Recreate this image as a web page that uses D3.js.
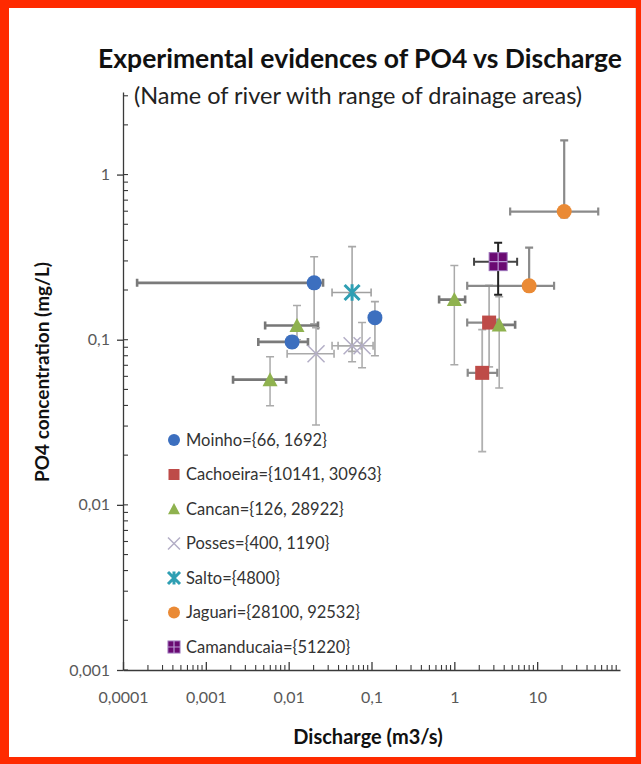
<!DOCTYPE html>
<html>
<head>
<meta charset="utf-8">
<script src="https://cdn.jsdelivr.net/npm/d3@7"></script>
<style>
body { margin: 0; background: #fff; }
svg { display: block; font-family: Lato, "Open Sans", sans-serif; }
</style>
</head>
<body>
<svg width="641" height="764"></svg>
<script>

// Discharge (m3/s) vs PO4 (mg/L), with min/max ranges for error bars
var moinho = [
	{ x: 0.0203, y: 0.221, xlo: 0.000148, xhi: 0.026, ylo: 0.125, yhi: 0.318 },
	{ x: 0.011, y: 0.097, xlo: 0.0043, xhi: 0.0171, ylo: 0.089, yhi: 0.105 },
	{ x: 0.110, y: 0.136, xlo: null, xhi: null, ylo: 0.080, yhi: 0.170 }
];
var cachoeira = [
	{ x: 2.63, y: 0.127, xlo: 1.43, xhi: 3.3, ylo: 0.0685, yhi: 0.213 },
	{ x: 2.17, y: 0.063, xlo: 1.45, xhi: 3.3, ylo: 0.021, yhi: 0.115 }
];
var cancan = [
	{ x: 0.0126, y: 0.122, xlo: 0.0052, xhi: 0.0226, ylo: 0.1, yhi: 0.161 },
	{ x: 0.00596, y: 0.0573, xlo: 0.00213, xhi: 0.0093, ylo: 0.0398, yhi: 0.0789 },
	{ x: 1.0, y: 0.175, xlo: 0.655, xhi: 1.35, ylo: 0.0705, yhi: 0.281 },
	{ x: 3.48, y: 0.123, xlo: 2.35, xhi: 5.42, ylo: 0.051, yhi: 0.182 }
];
var posses = [
	{ x: 0.0214, y: 0.0822, xlo: 0.00958, xhi: 0.0353, ylo: 0.0305, yhi: 0.118 },
	{ x: 0.0583, y: 0.092, xlo: 0.0334, xhi: 0.075, ylo: 0.0736, yhi: 0.19 },
	{ x: 0.0769, y: 0.092, xlo: 0.0395, xhi: 0.1045, ylo: 0.0676, yhi: 0.127 }
];
var salto = [
	{ x: 0.0583, y: 0.193, xlo: 0.0334, xhi: 0.0989, ylo: 0.085, yhi: 0.366 }
];
var jaguari = [
	{ x: 21.2, y: 0.597, xlo: 4.72, xhi: 54.6, ylo: 0.55, yhi: 1.61 },
	{ x: 8.0, y: 0.212, xlo: 1.43, xhi: 16.0, ylo: 0.2, yhi: 0.361 }
];
var camanducaia = [
	{ x: 3.38, y: 0.297, xlo: 1.73, xhi: 5.73, ylo: 0.187, yhi: 0.387 }
];

var seriesNames = ["Moinho={66, 1692}", "Cachoeira={10141, 30963}", "Cancan={126, 28922}",
	"Posses={400, 1190}", "Salto={4800}", "Jaguari={28100, 92532}", "Camanducaia={51220}"];
var seriesData = [moinho, cachoeira, cancan, posses, salto, jaguari, camanducaia];

var xTicks = [0.0001, 0.001, 0.01, 0.1, 1, 10];
var yTicks = [0.001, 0.01, 0.1, 1];

// look of each series (marker, colour, error bar pens)
var looks = [
	{ m: "circle", c: "#3c6fbf", xe: ["#7a7a7a", 2.6], ye: ["#a8a8a8", 1.6] },
	{ m: "square", c: "#be4b48", xe: ["#8a8a8a", 2.2], ye: ["#b0b0b0", 1.8] },
	{ m: "triangle", c: "#8fb24f", xe: ["#777", 2.6], ye: ["#aaa", 1.5] },
	{ m: "times", c: "#b3aec6", xe: ["#aaa", 1.6], ye: ["#aaa", 1.5] },
	{ m: "star", c: "#2f9fb3", xe: ["#a0a0a0", 1.6], ye: ["#a8a8a8", 1.6] },
	{ m: "circle", c: "#ea8a35", xe: ["#8a8a8a", 2.2], ye: ["#8a8a8a", 2.2] },
	{ m: "boxplus", c: "#6a0a72", xe: ["#444", 2], ye: ["#222", 2] }
];

var svg = d3.select("svg");

// red frame
svg.append("rect").attr("width", 641).attr("height", 764).attr("fill", "#ff2a00");
svg.append("rect").attr("x", 9).attr("y", 8).attr("width", 627).attr("height", 749).attr("fill", "#fff");
svg.append("line").attr("x1", 635.5).attr("x2", 635.5).attr("y1", 8).attr("y2", 757)
	.attr("stroke", "#d8d8d8").attr("stroke-width", 1);

var x = d3.scaleLog().domain([0.0001, 100]).range([123, 620]);
var y = d3.scaleLog().domain([0.001, Math.pow(10, 0.5)]).range([670, 92]);

function fmt(v) { return String(v).replace(".", ","); }

var axisColor = "#3a3a3a";

// y axis
var gy = svg.append("g")
	.attr("transform", "translate(" + x(0.0001) + ",0)")
	.call(d3.axisLeft(y).tickValues(yTicks).tickFormat(fmt).tickSizeInner(6).tickSizeOuter(0).tickPadding(7));
gy.select(".domain").attr("stroke", axisColor).attr("stroke-width", 1.3);
gy.selectAll(".tick line").attr("stroke", axisColor).attr("stroke-width", 1.3);
gy.selectAll(".tick text").attr("fill", "#595959").style("font-size", "16px").style("font-family", "Lato, sans-serif");

// x axis
var gx = svg.append("g")
	.attr("transform", "translate(0," + y(0.001) + ")")
	.call(d3.axisBottom(x).tickValues(xTicks).tickFormat(fmt).tickSizeInner(-8).tickSizeOuter(0).tickPadding(22));
gx.select(".domain").attr("stroke", axisColor).attr("stroke-width", 1.3);
gx.selectAll(".tick line").attr("stroke", axisColor).attr("stroke-width", 1.3);
gx.selectAll(".tick text").attr("fill", "#595959").style("font-size", "16px").style("font-family", "Lato, sans-serif");

// minor ticks
var minorX = [], minorY = [];
for (var e = -4; e < 2; e++)
	for (var k = 2; k <= 9; k++) minorX.push(k * Math.pow(10, e));
for (var e2 = -3; e2 < 1; e2++)
	for (var k2 = 1; k2 <= 9; k2++) {
		var v = k2 * Math.pow(10, e2);
		if (v <= y.domain()[1]) minorY.push(v);
	}

svg.append("g").selectAll("line").data(minorX).enter().append("line")
	.attr("x1", function(d) { return x(d); }).attr("x2", function(d) { return x(d); })
	.attr("y1", y(0.001)).attr("y2", y(0.001) - 5)
	.attr("stroke", axisColor).attr("stroke-width", 1.1);
svg.append("g").selectAll("line").data(minorY).enter().append("line")
	.attr("x1", x(0.0001)).attr("x2", x(0.0001) + 5)
	.attr("y1", function(d) { return y(d); }).attr("y2", function(d) { return y(d); })
	.attr("stroke", axisColor).attr("stroke-width", 1.1);

// error bars
var bars = svg.append("g");
var cap = 4;
seriesData.forEach(function(pts, i) {
	var lk = looks[i];
	pts.forEach(function(p) {
		if (p.xlo != null) {
			var yy = y(p.y);
			bars.append("path")
				.attr("d", "M" + x(p.xlo) + "," + yy + "H" + x(p.xhi) +
					"M" + x(p.xlo) + "," + (yy - cap) + "V" + (yy + cap) +
					"M" + x(p.xhi) + "," + (yy - cap) + "V" + (yy + cap))
				.attr("fill", "none").attr("stroke", lk.xe[0]).attr("stroke-width", lk.xe[1]);
		}
		if (p.ylo != null) {
			var xx = x(p.x);
			bars.append("path")
				.attr("d", "M" + xx + "," + y(p.ylo) + "V" + y(p.yhi) +
					"M" + (xx - cap) + "," + y(p.ylo) + "H" + (xx + cap) +
					"M" + (xx - cap) + "," + y(p.yhi) + "H" + (xx + cap))
				.attr("fill", "none").attr("stroke", lk.ye[0]).attr("stroke-width", lk.ye[1]);
		}
	});
});

function marker(g, kind, cx, cy, s, color) {
	var t = "translate(" + cx + "," + cy + ")";
	if (kind == "circle") {
		g.append("circle").attr("cx", cx).attr("cy", cy).attr("r", s / 2).attr("fill", color);
	} else if (kind == "square") {
		g.append("rect").attr("x", cx - s / 2).attr("y", cy - s / 2).attr("width", s).attr("height", s).attr("fill", color);
	} else if (kind == "triangle") {
		g.append("path").attr("transform", t)
			.attr("d", "M0," + (-s / 2) + "L" + (s / 2) + "," + (s / 2.3) + "L" + (-s / 2) + "," + (s / 2.3) + "Z")
			.attr("fill", color);
	} else if (kind == "times") {
		var h = s / 2;
		g.append("path").attr("transform", t)
			.attr("d", "M" + (-h) + "," + (-h) + "L" + h + "," + h + "M" + (-h) + "," + h + "L" + h + "," + (-h))
			.attr("stroke", color).attr("stroke-width", 1.5).attr("fill", "none");
	} else if (kind == "star") {
		var h2 = s / 2;
		g.append("path").attr("transform", t)
			.attr("d", "M" + (-h2) + "," + (-h2) + "L" + h2 + "," + h2 + "M" + (-h2) + "," + h2 + "L" + h2 + "," + (-h2) +
				"M0," + (-h2 * 1.1) + "V" + (h2 * 1.1))
			.attr("stroke", color).attr("stroke-width", 3).attr("fill", "none");
	} else if (kind == "boxplus") {
		g.append("rect").attr("x", cx - s / 2).attr("y", cy - s / 2).attr("width", s).attr("height", s)
			.attr("fill", color).attr("stroke", "#9a6fb8").attr("stroke-width", 1);
		g.append("path")
			.attr("d", "M" + (cx - s / 2) + "," + cy + "H" + (cx + s / 2) + "M" + cx + "," + (cy - s / 2) + "V" + (cy + s / 2))
			.attr("stroke", "#b99ad4").attr("stroke-width", 1.2);
	}
}

var plotSizes = { circle: 15, square: 14, triangle: 15, times: 17, star: 15, boxplus: 18 };
var legendSizes = { circle: 12, square: 11, triangle: 12, times: 12, star: 12, boxplus: 12 };

var marks = svg.append("g");
seriesData.forEach(function(pts, i) {
	var lk = looks[i];
	pts.forEach(function(p) {
		marker(marks, lk.m, x(p.x), y(p.y), plotSizes[lk.m], lk.c);
	});
});

// legend
var legend = svg.append("g");
seriesNames.forEach(function(name, i) {
	var ly = 440 + i * 34.5;
	marker(legend, looks[i].m, 174, ly, legendSizes[looks[i].m], looks[i].c);
	legend.append("text").attr("x", 186).attr("y", ly).attr("dy", "0.36em")
		.attr("fill", "#333").style("font-size", "16.5px").text(name);
});

// titles
svg.append("text").attr("x", 360).attr("y", 68).attr("text-anchor", "middle")
	.style("font-size", "26.5px").style("font-weight", "bold").attr("fill", "#111")
	.text("Experimental evidences of PO4 vs Discharge");
svg.append("text").attr("x", 358).attr("y", 104).attr("text-anchor", "middle")
	.style("font-size", "23.5px").attr("fill", "#222")
	.text("(Name of river with range of drainage areas)");
svg.append("text").attr("transform", "translate(49,372) rotate(-90)").attr("text-anchor", "middle")
	.style("font-size", "19px").style("font-weight", "bold").attr("fill", "#111")
	.text("PO4 concentration  (mg/L)");
svg.append("text").attr("x", 368).attr("y", 744).attr("text-anchor", "middle")
	.style("font-size", "20px").style("font-weight", "bold").attr("fill", "#111")
	.text("Discharge (m3/s)");

</script>
</body>
</html>
